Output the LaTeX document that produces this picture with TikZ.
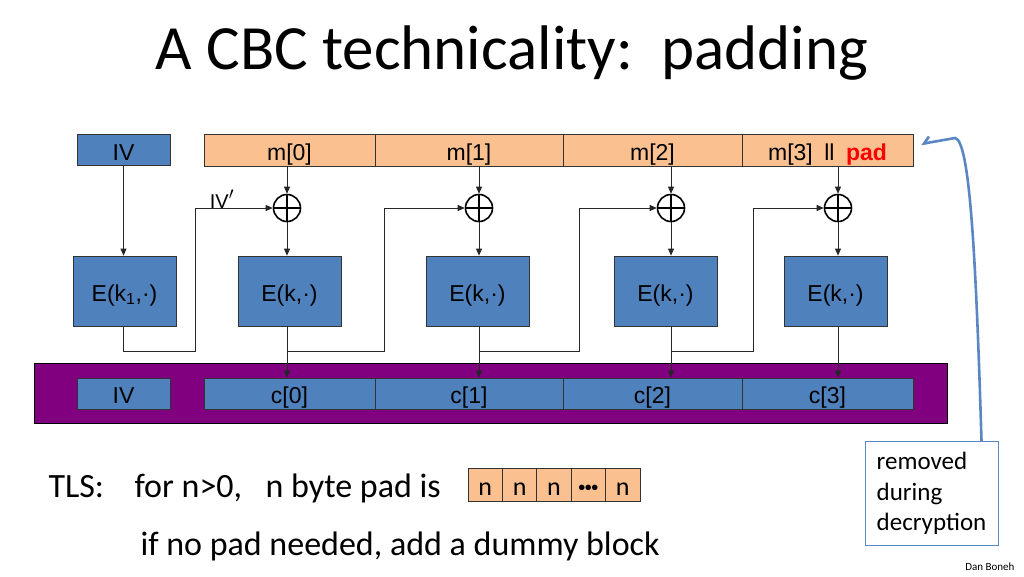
\documentclass[tikz,border=0pt]{standalone}
\usepackage{fontspec}
\setmainfont{Carlito}
\newfontfamily\arialfont{Liberation Sans}
\usetikzlibrary{positioning, arrows.meta}
\definecolor{boxblue}{RGB}{79,129,189}
\definecolor{peach}{RGB}{250,192,144}
\definecolor{bandpurple}{RGB}{128,0,128}
\definecolor{noteblue}{RGB}{90,135,195}

\begin{document}
\begin{tikzpicture}[x=1pt, y=-1pt,
          blk/.style={draw=black!80, line width=0.8pt, fill=boxblue, inner sep=0, minimum height=31,
            text height=22pt, text depth=2pt, font=\arialfont\fontsize{23}{27}\selectfont},
          msg/.style={blk, fill=peach, minimum height=32},
          enc/.style={blk, minimum width=103, minimum height=70},
          xor/.style={circle, draw, line width=1.6pt, minimum size=27, inner sep=0,
            path picture={\draw[line width=1.4pt] (path picture bounding box.north) -- (path picture bounding box.south)
              (path picture bounding box.west) -- (path picture bounding box.east);}},
          wire/.style={draw=black!85, line width=0.8pt, -{Triangle[length=7pt,width=6pt]}},
          padcell/.style={draw=black!80, line width=0.8pt, fill=peach, minimum width=34.4, minimum height=33, inner sep=0,
            text height=21pt, text depth=0pt, font=\fontsize{26}{30}\selectfont}
        ]
        \useasboundingbox (0,0) rectangle (1024,576);
        \node[anchor=base, font=\fontsize{63}{70}\selectfont] (title) at (512,69) {A CBC technicality:\ \ padding};

        % plaintext row
        \node[blk, minimum width=93] (ivt) at (123.5,150) {IV};
        \foreach \i/\l/\r/\t in {0/204/375/m[0], 1/375/563/m[1], 2/563/742/m[2],
            3/742/913/{m[3]\enspace ll\enspace\textcolor{red}{\bfseries pad}}}{
          \node[msg, minimum width={\r-\l}] (m\i) at ({(\l+\r)/2},150) {\t};
        }
        \foreach \i/\x in {0/287,1/479,2/671,3/838}{\node[xor] (x\i) at (\x,208) {};}

        % block cipher boxes
        \node[enc] (e0) at (124.5,291) {E(k\textsubscript{1},·)};
        \foreach \i/\x in {1/289.5,2/477.5,3/665.5,4/835.5}{\node[enc] (e\i) at (\x,291) {E(k,·)};}

        % ciphertext row
        \node[draw=black, line width=0.8pt, fill=bandpurple, minimum width=913, minimum height=60, inner sep=0] (band) at (490.5,393) {};
        \node[blk, minimum width=93] (ivb) at (123.5,393.5) {IV};
        \foreach \i/\l/\r in {0/204/375, 1/375/563, 2/563/742, 3/742/913}{
          \node[blk, minimum width={\r-\l}] (c\i) at ({(\l+\r)/2},393.5) {c[\i]};
        }
        \node[font=\arialfont\fontsize{20}{24}\selectfont] (ivp) at (222,199) {IV{\fontsize{27}{27}\selectfont$'$}};

        % wires
        \draw[wire] (ivt.south) -- (ivt.south |- e0.north);
        \foreach \i/\j in {0/1,1/2,2/3,3/4}{
          \draw[wire] (m\i.south -| x\i) -- (x\i.north);
          \draw[wire] (x\i.south) -- (x\i.south |- e\j.north);
          \draw[wire] (x\i.south |- e\j.south) -- (x\i.south |- c\i.north);
        }
        \coordinate (t0) at (195,351);
        \coordinate (t1) at (384,351);
        \coordinate (t2) at (579,351);
        \coordinate (t3) at (753,351);
        \draw[wire] (ivt.south |- e0.south) |- (t0) |- (x0.west);
        \foreach \i/\k in {1/0,2/1,3/2}{
          \draw[wire] (x\k.south |- t\i) -- (t\i) |- (x\i.west);
        }

        % note
        \node[draw=noteblue, line width=1pt, minimum width=133, minimum height=104, inner sep=0, align=left,
          font=\fontsize{25}{30.5}\selectfont] (rm) at (931.5,493.5) {removed\\during\\decryption};
        \coordinate (tip) at (921,144);
        \draw[noteblue, line width=2.6pt, -{Straight Barb[right, length=6pt]}]
          ([xshift=-17pt]rm.north east) .. controls (976,260) and (970,140) .. (955,138) -- (tip);

        % TLS padding
        \node[anchor=base west, font=\fontsize{34}{40}\selectfont] (tls) at (45,497) {TLS:};
        \node[anchor=base west, font=\fontsize{34}{40}\selectfont] (tlsn) at (131,497) {for n>0,};
        \node[anchor=base west, font=\fontsize{34}{40}\selectfont] (tlspad) at (262,497) {n byte pad is};
        \foreach \i/\t in {0/n,1/n,2/n,3/{\raisebox{4pt}{\fontsize{13}{13}\selectfont\textbf{•••}}},4/n}{\node[padcell] (p\i) at ({485.2+34.4*\i},484.5) {\t};}
        \node[anchor=base west, font=\fontsize{34}{40}\selectfont] (dummy) at (137,555) {if no pad needed, add a dummy block};
        \node[anchor=base east, font=\fontsize{11}{13}\selectfont] (sig) at (1018,570) {Dan Boneh};
      \end{tikzpicture}
\end{document}
